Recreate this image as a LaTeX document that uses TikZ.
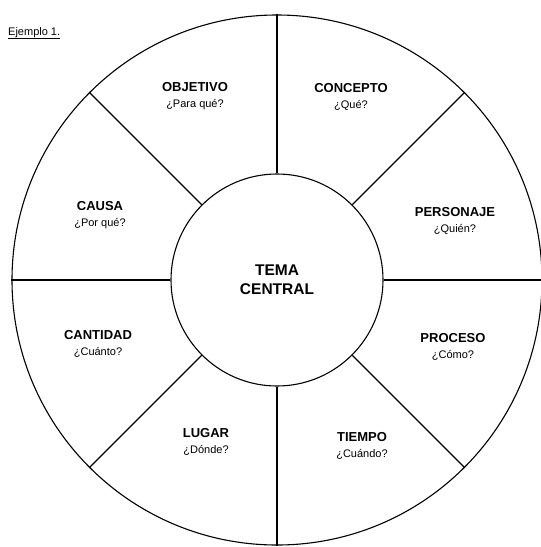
\documentclass[tikz,border=0pt]{standalone}
\usepackage{fontspec}
\setmainfont{Liberation Sans}
\usepackage{tikz}
\usetikzlibrary{positioning}

\tikzset{
  rueda/.style={circle, draw, line width=1.1pt, inner sep=0pt},
  radio/.style={line width=1.2pt},
  sector/.style={align=center, inner sep=0pt, font=\fontsize{11}{16}\selectfont},
}
\newcommand{\titulo}[1]{{\fontsize{13}{15}\selectfont\bfseries #1}}

\begin{document}
\begin{tikzpicture}[x=1pt,y=-1pt]
    \useasboundingbox (0,0) rectangle (541,547);
    % circles
    \node[rueda, minimum size=530pt] (exterior) at (277,280) {};
    \node[rueda, minimum size=212pt, align=center,
          font=\fontsize{15.5}{19}\selectfont\bfseries] (centro) at (277,280) {TEMA\\CENTRAL};
    % spokes between the two circles
    \foreach \a in {0,45,...,315}
      \draw[radio] (centro.\a) -- (exterior.\a);
    % heading
    \node[anchor=base west, inner sep=0pt, font=\fontsize{11}{12}\selectfont] (ejemplo) at (8,35) {\underline{Ejemplo 1.}};
    % labels of the sectors
    \node[sector] (objetivo) at (195,96) {\titulo{OBJETIVO}\\¿Para qué?};
    \node[sector] (concepto) at (351,97) {\titulo{CONCEPTO}\\¿Qué?};
    \node[sector] (personaje) at (455,221) {\titulo{PERSONAJE}\\¿Quién?};
    \node[sector] (causa) at (100,215) {\titulo{CAUSA}\\¿Por qué?};
    \node[sector] (cantidad) at (98,344) {\titulo{CANTIDAD}\\¿Cuánto?};
    \node[sector] (proceso) at (453,347) {\titulo{PROCESO}\\¿Cómo?};
    \node[sector] (lugar) at (206,442) {\titulo{LUGAR}\\¿Dónde?};
    \node[sector] (tiempo) at (362,446) {\titulo{TIEMPO}\\¿Cuándo?};
\end{tikzpicture}
\end{document}
